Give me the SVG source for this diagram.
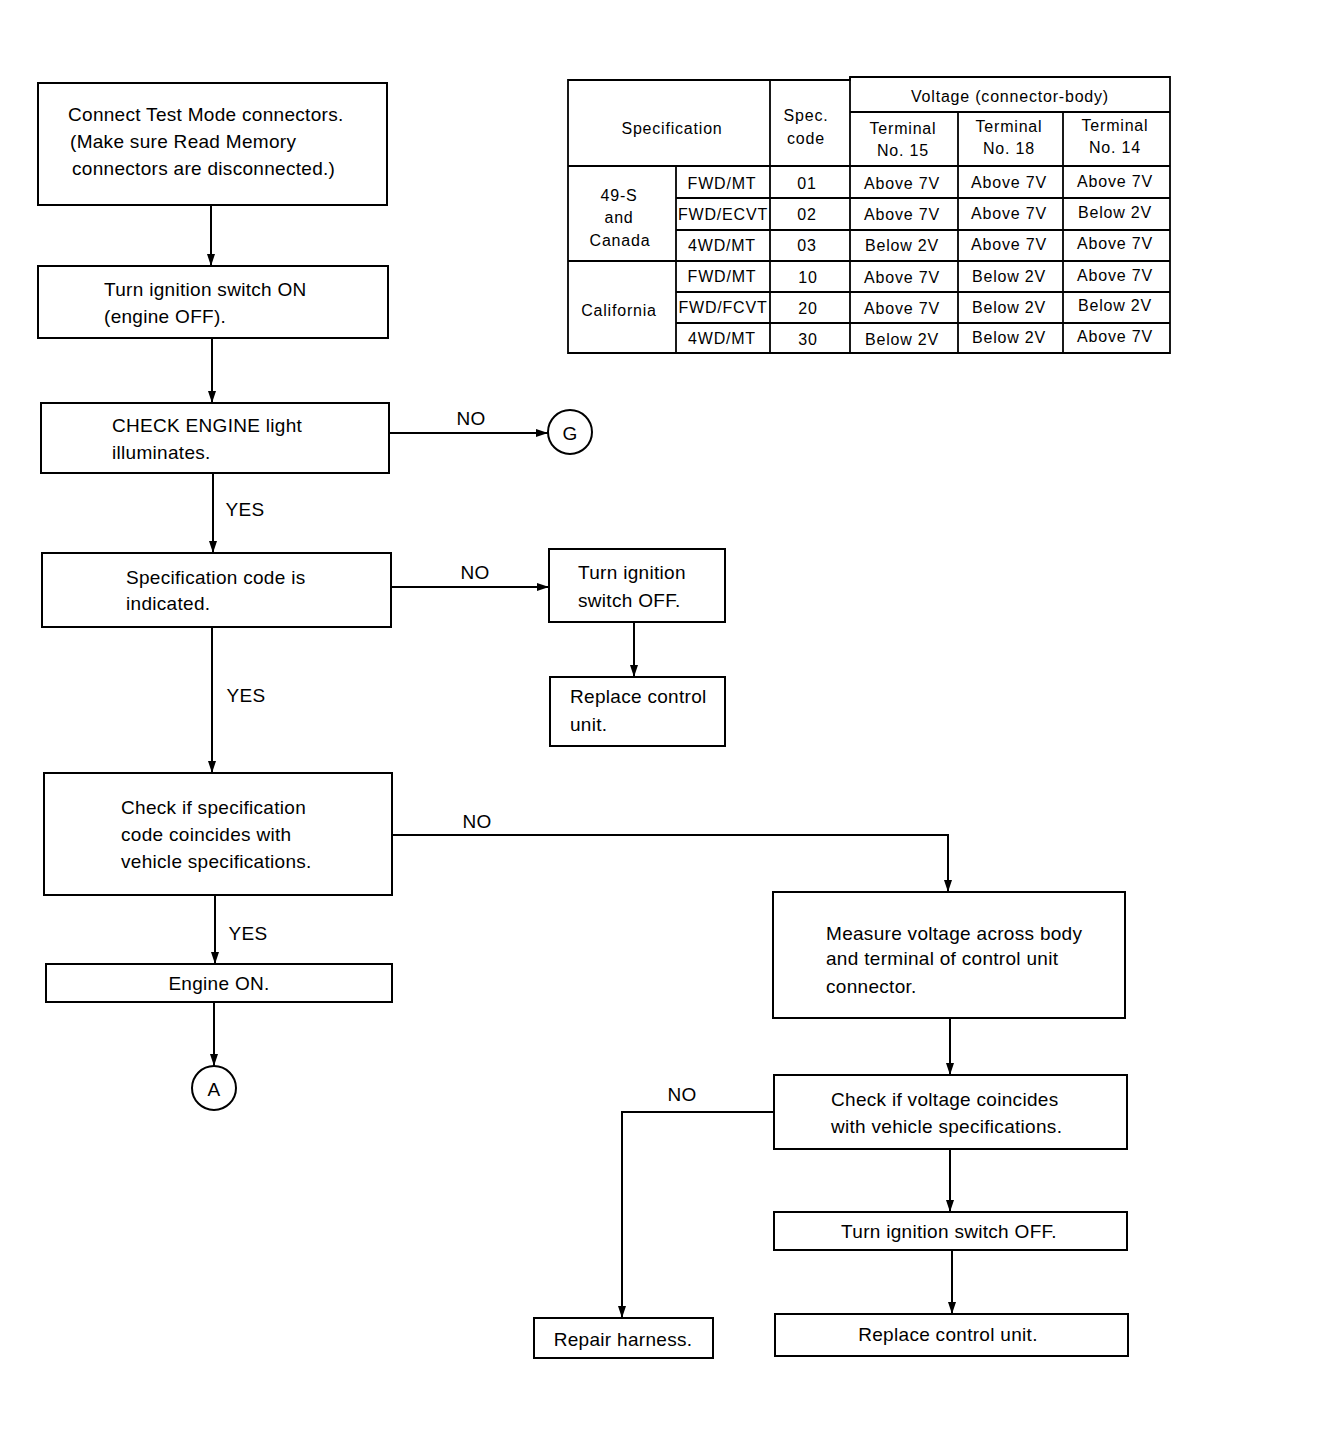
<svg xmlns="http://www.w3.org/2000/svg" width="1337" height="1436" viewBox="0 0 1337 1436">
<style>
.bx{fill:#fff;stroke:#000;stroke-width:2}
.t{font-family:"Liberation Sans",Arial,sans-serif;font-size:19px;letter-spacing:0.3px;fill:#000}
.m{text-anchor:middle}
.tb{font-family:"Liberation Sans",Arial,sans-serif;font-size:16px;letter-spacing:0.8px;fill:#000;text-anchor:middle}
.ln{fill:none;stroke:#000;stroke-width:2}
.tl{stroke:#000;stroke-width:1.8;fill:none}
</style>
<defs>
<marker id="ah" viewBox="0 0 12 8" refX="12" refY="4" markerWidth="12" markerHeight="8" markerUnits="userSpaceOnUse" orient="auto">
<path d="M0,0 L12,4 L0,8 Z" fill="#000"/>
</marker>
</defs>
<rect width="1337" height="1436" fill="#fff"/>

<g id="spec-table">
<path d="M568,80 H850 V77 H1170 V353 H568 Z" class="tl"/>
<line x1="850" y1="112" x2="1170" y2="112" class="tl"/>
<line x1="568" y1="166" x2="1170" y2="166" class="tl"/>
<line x1="676" y1="198" x2="1170" y2="198" class="tl"/>
<line x1="676" y1="230" x2="1170" y2="230" class="tl"/>
<line x1="568" y1="261" x2="1170" y2="261" class="tl"/>
<line x1="676" y1="292" x2="1170" y2="292" class="tl"/>
<line x1="676" y1="323" x2="1170" y2="323" class="tl"/>
<line x1="676" y1="166" x2="676" y2="353" class="tl"/>
<line x1="770" y1="80" x2="770" y2="353" class="tl"/>
<line x1="850" y1="77" x2="850" y2="353" class="tl"/>
<line x1="958" y1="112" x2="958" y2="353" class="tl"/>
<line x1="1063" y1="112" x2="1063" y2="353" class="tl"/>
<text class="tb" x="672" y="134">Specification</text>
<text class="tb" x="806" y="121">Spec.</text>
<text class="tb" x="806" y="144">code</text>
<text class="tb" x="1010" y="102">Voltage (connector-body)</text>
<text class="tb" x="903" y="134">Terminal</text>
<text class="tb" x="903" y="156">No. 15</text>
<text class="tb" x="1009" y="132">Terminal</text>
<text class="tb" x="1009" y="154">No. 18</text>
<text class="tb" x="1115" y="131">Terminal</text>
<text class="tb" x="1115" y="153">No. 14</text>
<text class="tb" x="619" y="201">49-S</text>
<text class="tb" x="619" y="223">and</text>
<text class="tb" x="620" y="246">Canada</text>
<text class="tb" x="619" y="316">California</text>
<text class="tb" x="722" y="189">FWD/MT</text>
<text class="tb" x="723" y="220">FWD/ECVT</text>
<text class="tb" x="722" y="251">4WD/MT</text>
<text class="tb" x="722" y="282">FWD/MT</text>
<text class="tb" x="723" y="313">FWD/FCVT</text>
<text class="tb" x="722" y="344">4WD/MT</text>
<text class="tb" x="807" y="189">01</text>
<text class="tb" x="807" y="220">02</text>
<text class="tb" x="807" y="251">03</text>
<text class="tb" x="808" y="283">10</text>
<text class="tb" x="808" y="314">20</text>
<text class="tb" x="808" y="345">30</text>
<text class="tb" x="902" y="189">Above 7V</text>
<text class="tb" x="902" y="220">Above 7V</text>
<text class="tb" x="902" y="251">Below 2V</text>
<text class="tb" x="902" y="283">Above 7V</text>
<text class="tb" x="902" y="314">Above 7V</text>
<text class="tb" x="902" y="345">Below 2V</text>
<text class="tb" x="1009" y="188">Above 7V</text>
<text class="tb" x="1009" y="219">Above 7V</text>
<text class="tb" x="1009" y="250">Above 7V</text>
<text class="tb" x="1009" y="282">Below 2V</text>
<text class="tb" x="1009" y="313">Below 2V</text>
<text class="tb" x="1009" y="343">Below 2V</text>
<text class="tb" x="1115" y="187">Above 7V</text>
<text class="tb" x="1115" y="218">Below 2V</text>
<text class="tb" x="1115" y="249">Above 7V</text>
<text class="tb" x="1115" y="281">Above 7V</text>
<text class="tb" x="1115" y="311">Below 2V</text>
<text class="tb" x="1115" y="342">Above 7V</text>
</g>

<g id="connectors">
<line class="ln" x1="211" y1="205" x2="211" y2="266" marker-end="url(#ah)"/>
<line class="ln" x1="212" y1="338" x2="212" y2="403" marker-end="url(#ah)"/>
<line class="ln" x1="389" y1="433" x2="548" y2="433" marker-end="url(#ah)"/>
<line class="ln" x1="213" y1="473" x2="213" y2="553" marker-end="url(#ah)"/>
<line class="ln" x1="391" y1="587" x2="549" y2="587" marker-end="url(#ah)"/>
<line class="ln" x1="634" y1="622" x2="634" y2="677" marker-end="url(#ah)"/>
<line class="ln" x1="212" y1="627" x2="212" y2="773" marker-end="url(#ah)"/>
<polyline class="ln" points="392,835 948,835 948,892" marker-end="url(#ah)"/>
<line class="ln" x1="215" y1="895" x2="215" y2="964" marker-end="url(#ah)"/>
<line class="ln" x1="214" y1="1002" x2="214" y2="1066" marker-end="url(#ah)"/>
<line class="ln" x1="950" y1="1018" x2="950" y2="1075" marker-end="url(#ah)"/>
<polyline class="ln" points="774,1112 622,1112 622,1318" marker-end="url(#ah)"/>
<line class="ln" x1="950" y1="1149" x2="950" y2="1212" marker-end="url(#ah)"/>
<line class="ln" x1="952" y1="1250" x2="952" y2="1314" marker-end="url(#ah)"/>
<text class="t m" x="471" y="425">NO</text>
<text class="t m" x="475" y="579">NO</text>
<text class="t m" x="245" y="516">YES</text>
<text class="t m" x="246" y="702">YES</text>
<text class="t m" x="477" y="828">NO</text>
<text class="t m" x="248" y="940">YES</text>
<text class="t m" x="682" y="1101">NO</text>
</g>

<g id="n1"><rect class="bx" x="38" y="83" width="349" height="122"/>
<text class="t" x="68" y="121">Connect Test Mode connectors.</text>
<text class="t" x="70" y="148">(Make sure Read Memory</text>
<text class="t" x="72" y="175">connectors are disconnected.)</text></g>
<g id="n2"><rect class="bx" x="38" y="266" width="350" height="72"/>
<text class="t" x="104" y="296">Turn ignition switch ON</text>
<text class="t" x="104" y="323">(engine OFF).</text></g>
<g id="n3"><rect class="bx" x="41" y="403" width="348" height="70"/>
<text class="t" x="112" y="432">CHECK ENGINE light</text>
<text class="t" x="112" y="459">illuminates.</text></g>
<g id="nG"><circle cx="570" cy="432" r="22" class="bx" stroke-width="1.8"/>
<text class="t m" x="570" y="440" font-size="22">G</text></g>
<g id="n4"><rect class="bx" x="42" y="553" width="349" height="74"/>
<text class="t" x="126" y="584">Specification code is</text>
<text class="t" x="126" y="610">indicated.</text></g>
<g id="n5"><rect class="bx" x="549" y="549" width="176" height="73"/>
<text class="t" x="578" y="579">Turn ignition</text>
<text class="t" x="578" y="607">switch OFF.</text></g>
<g id="n6"><rect class="bx" x="550" y="677" width="175" height="69"/>
<text class="t" x="570" y="703">Replace control</text>
<text class="t" x="570" y="731">unit.</text></g>
<g id="n7"><rect class="bx" x="44" y="773" width="348" height="122"/>
<text class="t" x="121" y="814">Check if specification</text>
<text class="t" x="121" y="841">code coincides with</text>
<text class="t" x="121" y="868">vehicle specifications.</text></g>
<g id="n8"><rect class="bx" x="46" y="964" width="346" height="38"/>
<text class="t m" x="219" y="990">Engine ON.</text></g>
<g id="nA"><circle cx="214" cy="1088" r="22" class="bx" stroke-width="1.8"/>
<text class="t m" x="214" y="1096" font-size="22">A</text></g>
<g id="n9"><rect class="bx" x="773" y="892" width="352" height="126"/>
<text class="t" x="826" y="940">Measure voltage across body</text>
<text class="t" x="826" y="965">and terminal of control unit</text>
<text class="t" x="826" y="993">connector.</text></g>
<g id="n10"><rect class="bx" x="774" y="1075" width="353" height="74"/>
<text class="t" x="831" y="1106">Check if voltage coincides</text>
<text class="t" x="831" y="1133">with vehicle specifications.</text></g>
<g id="n11"><rect class="bx" x="534" y="1318" width="179" height="40"/>
<text class="t m" x="623" y="1346">Repair harness.</text></g>
<g id="n12"><rect class="bx" x="774" y="1212" width="353" height="38"/>
<text class="t m" x="949" y="1238">Turn ignition switch OFF.</text></g>
<g id="n13"><rect class="bx" x="775" y="1314" width="353" height="42"/>
<text class="t m" x="948" y="1341">Replace control unit.</text></g>
</svg>
